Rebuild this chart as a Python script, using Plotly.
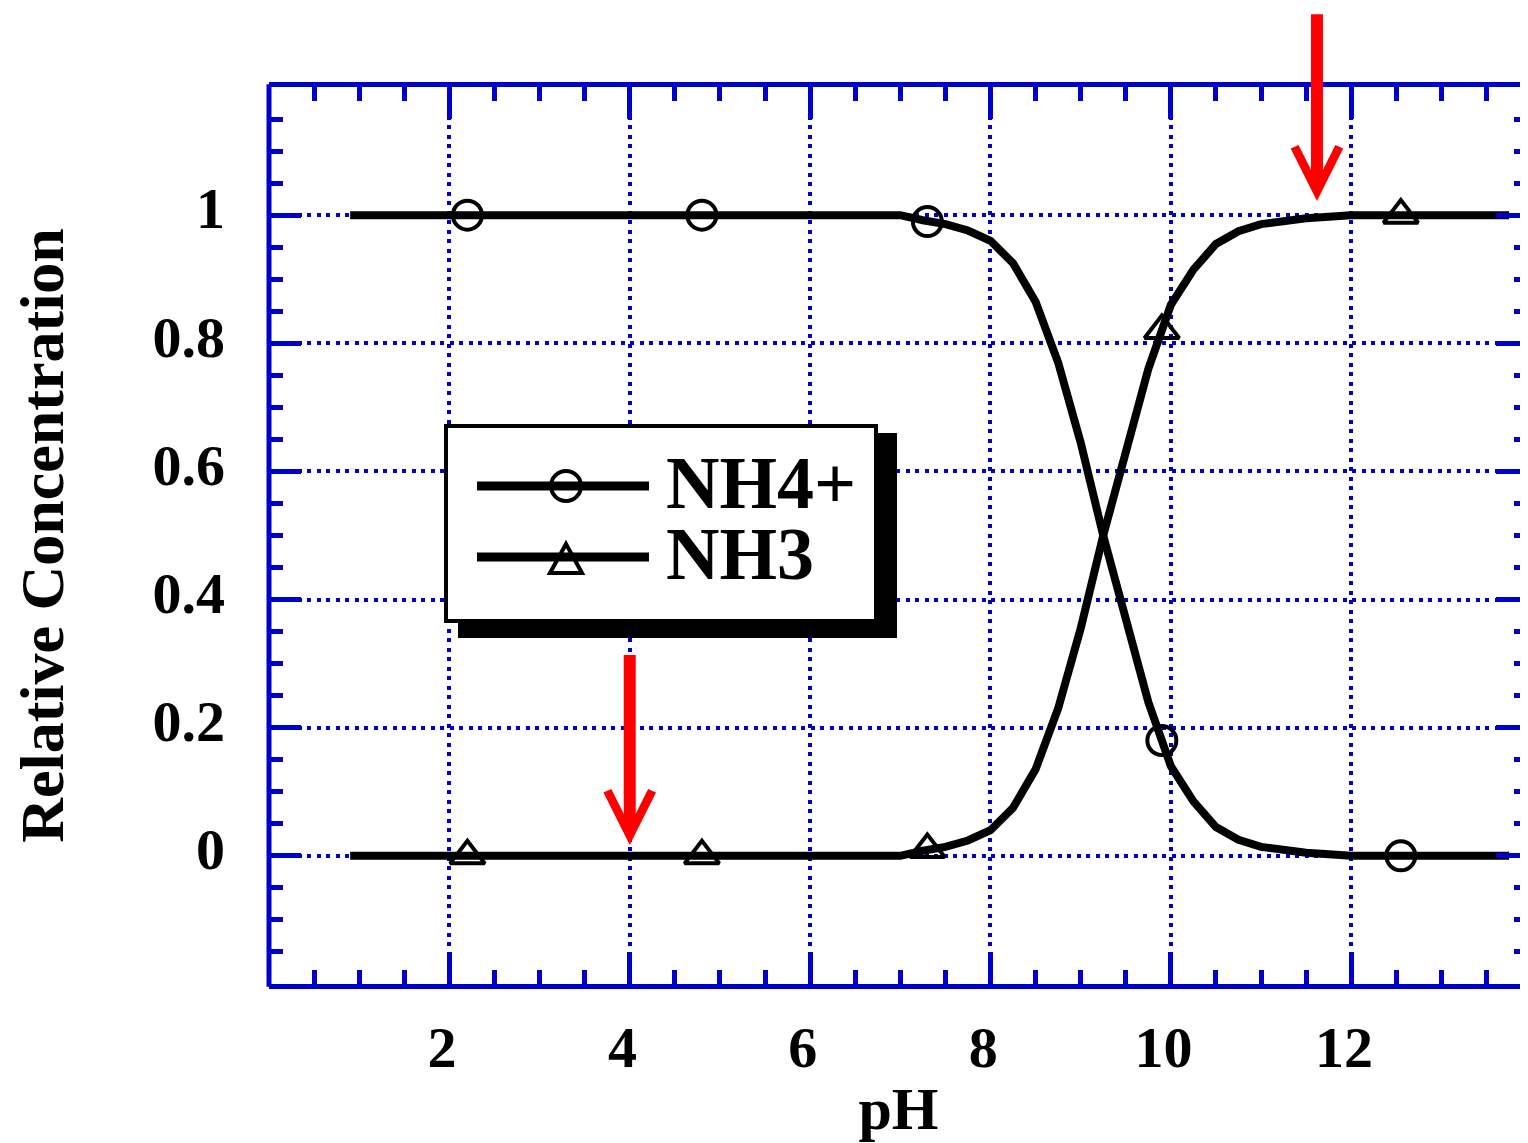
import plotly.graph_objects as go

# ---------------- data ----------------
ph = [0.9, 7.0, 7.25, 7.5, 7.75, 8.0, 8.25, 8.5, 8.75, 9.0, 9.25, 9.5, 9.75,
      10.0, 10.25, 10.5, 10.75, 11.0, 11.5, 12.0, 13.75]
nh4 = [1.0, 1.0, 0.992, 0.986, 0.976, 0.96, 0.925, 0.865, 0.77, 0.645, 0.5,
       0.365, 0.24, 0.14, 0.085, 0.045, 0.025, 0.014, 0.005, 0.0, 0.0]
nh3 = [0.0, 0.0, 0.008, 0.014, 0.024, 0.04, 0.075, 0.135, 0.23, 0.355, 0.5,
       0.635, 0.76, 0.86, 0.915, 0.955, 0.975, 0.986, 0.995, 1.0, 1.0]

mark_ph = [2.2, 4.8, 7.3, 9.9, 12.55]
mark_nh4 = [1.0, 1.0, 0.99, 0.18, 0.0]
mark_nh3 = [0.0, 0.0, 0.01, 0.82, 1.0]

series_names = ["NH4+", "NH3"]
x_tick_vals = [2, 4, 6, 8, 10, 12]
x_tick_text = ["2\u00a0", "4\u00a0", "6\u00a0", "8\u00a0", "10\u00a0", "12\u00a0"]
y_tick_vals = [0, 0.2, 0.4, 0.6, 0.8, 1]
y_tick_text = ["0", "0.2", "0.4", "0.6", "0.8", "1"]
arrow_points = [(4.0, 0.017, 0.316), (11.62, 1.022, 1.316)]  # x, tip y, tail y

# ---------------- layout constants ----------------
BODY = 8                       # default page margin around the plot div
W, H = 1528 - BODY, 1143 - BODY
PL, PT, PB, PWID = 269, 87, 984, 1259   # plot area in page pixels
ML, MT = PL - BODY, PT - BODY
MB = H - (PB - BODY)
MR = W - ML - PWID
BLUE = "#0000CC"
RED = "#FF0000"
FONT = "Liberation Serif"


def px(xp):
    return (xp - PL) / PWID


def py(yp):
    return (PB - yp) / (PB - PT)


fig = go.Figure()

fig.add_trace(go.Scatter(x=ph, y=nh4, mode="lines", name=series_names[0],
                         line=dict(color="black", width=8), showlegend=False))
fig.add_trace(go.Scatter(x=ph, y=nh3, mode="lines", name=series_names[1],
                         line=dict(color="black", width=8), showlegend=False))
fig.add_trace(go.Scatter(x=mark_ph, y=mark_nh4, mode="markers", name=series_names[0],
                         marker=dict(symbol="circle-open", size=29, color="black",
                                     line=dict(width=4, color="black")),
                         showlegend=False))
fig.add_trace(go.Scatter(x=mark_ph, y=mark_nh3, mode="markers", name=series_names[1],
                         marker=dict(symbol="triangle-up-open", size=30, color="black",
                                     line=dict(width=4, color="black")),
                         showlegend=False))

tickfont = dict(family=FONT, size=58, color="black", weight="bold")

fig.update_xaxes(
    range=[0, 13.96], tickmode="array", tickvals=x_tick_vals, ticktext=x_tick_text,
    ticks="inside", ticklen=32, tickwidth=5, tickcolor=BLUE,
    showline=True, linecolor=BLUE, linewidth=5, mirror="allticks",
    showgrid=True, gridcolor=BLUE, gridwidth=4, griddash="4px,5.5px",
    zeroline=False, automargin=False,
    minor=dict(dtick=0.5, tick0=0, ticks="inside", ticklen=14, tickwidth=5,
               tickcolor=BLUE, showgrid=False),
    tickfont=tickfont, ticklabelstandoff=8,
    title=dict(text="pH", font=dict(family=FONT, size=60, color="black", weight="bold"),
               standoff=10),
)
fig.update_yaxes(
    range=[-0.2, 1.2], tickmode="array", tickvals=y_tick_vals, ticktext=y_tick_text,
    ticks="inside", ticklen=32, tickwidth=5, tickcolor=BLUE,
    showline=False, mirror="allticks",
    showgrid=True, gridcolor=BLUE, gridwidth=4, griddash="4px,5.5px",
    zeroline=False, automargin=False,
    minor=dict(dtick=0.05, tick0=0, ticks="inside", ticklen=14, tickwidth=5,
               tickcolor=BLUE, showgrid=False),
    tickfont=tickfont, ticklabelstandoff=43, ticklabelshift=-7,
    title=dict(text="Relative Concentration",
               font=dict(family=FONT, size=62, color="black", weight="bold"),
               standoff=70),
)

shapes = []
# left border (the right border lies beyond the picture)
shapes.append(dict(type="line", xref="paper", yref="paper", x0=0, x1=0, y0=-0.003, y1=1.003,
                   line=dict(color=BLUE, width=5), layer="above"))
# legend shadow and box
shapes.append(dict(type="rect", xref="paper", yref="paper",
                   x0=px(458), x1=px(897), y0=py(638), y1=py(433),
                   fillcolor="black", line=dict(width=0), layer="above"))
shapes.append(dict(type="rect", xref="paper", yref="paper",
                   x0=px(446), x1=px(876), y0=py(621), y1=py(426),
                   fillcolor="white", line=dict(color="black", width=4), layer="above"))
# legend sample lines
for yl in (486, 557):
    shapes.append(dict(type="line", xref="paper", yref="paper",
                       x0=px(477), x1=px(649), y0=py(yl), y1=py(yl),
                       line=dict(color="black", width=9), layer="above"))
# legend circle marker
shapes.append(dict(type="circle", xref="paper", yref="paper",
                   x0=px(551), x1=px(581), y0=py(501), y1=py(471),
                   line=dict(color="black", width=4), layer="above"))
# legend triangle marker
tri = "M {:.5f},{:.5f} L {:.5f},{:.5f} L {:.5f},{:.5f} Z".format(
    px(550), py(573), px(582), py(573), px(566), py(544))
shapes.append(dict(type="path", xref="paper", yref="paper", path=tri,
                   line=dict(color="black", width=4), layer="above"))

annotations = []
for name, yc in zip(series_names, (483, 554)):
    annotations.append(dict(text=name, xref="paper", yref="paper", x=px(664), y=py(yc),
                            xanchor="left", yanchor="middle", showarrow=False,
                            font=dict(family=FONT, size=74, color="black", weight="bold")))
for xa, ytip, ytail in arrow_points:
    annotations.append(dict(text="", x=xa, y=ytip, ax=xa, ay=ytail, xref="x", yref="y",
                            axref="x", ayref="y", showarrow=True, arrowhead=5,
                            arrowwidth=12, arrowsize=0.73, arrowcolor=RED, standoff=0))

fig.update_layout(
    width=W, height=H, margin=dict(l=ML, r=MR, t=MT, b=MB),
    paper_bgcolor="white", plot_bgcolor="white", showlegend=False,
    shapes=shapes, annotations=annotations,
)

fig.write_html("out.html")
